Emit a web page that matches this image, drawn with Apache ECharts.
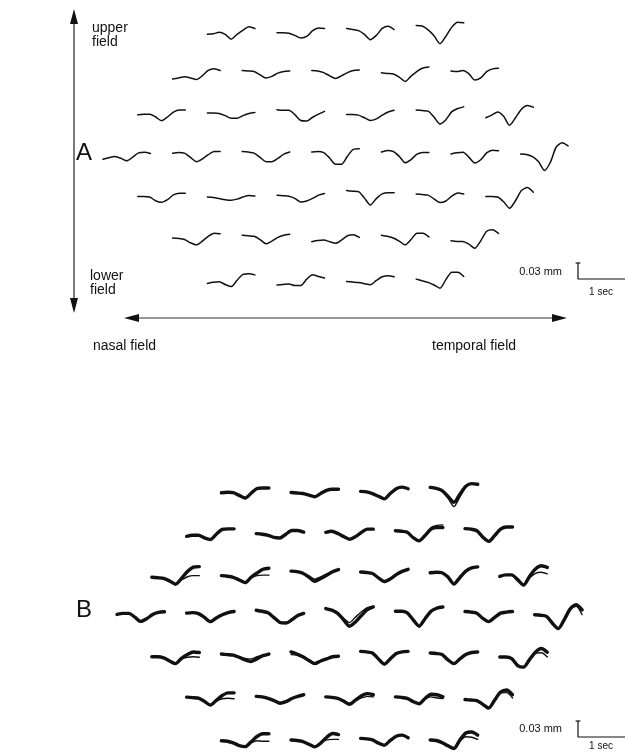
<!DOCTYPE html>
<html>
<head>
<meta charset="utf-8">
<script type="text/javascript" src="https://cdn.jsdelivr.net/npm/echarts@6/dist/echarts.min.js"></script>
<title>Visual field responses</title>
<style>html,body{margin:0;padding:0;background:#fff;}</style>
</head>
<body>
<div id="container" style="width:625px;height:753px;"></div>
<script type="text/javascript">
// sample times inside one trace (sec)
var times = [0, 0.125, 0.25, 0.375, 0.5, 0.625, 0.75, 0.875, 1];

// panel A: one trace per stimulus location, displacement in µm (up = positive)
// rows go from upper field to lower field, columns from nasal to temporal
var aRow1 = [
  [0, 1, 4, 0, -9, 0, 8, 14, 11],
  [0, 0, -1, -5, -10, -7, 4, 9, 8],
  [0, -2, -4, -11, -21, -13, 0, 4, -2],
  [0, -1, -8, -19, -34, -20, -3, 6, 5]
];
var aRow2 = [
  [0, 2, 4, 2, -1, 6, 16, 19, 16],
  [0, -1, -2, -8, -14, -11, -5, -2, -1],
  [0, -1, -4, -10, -15, -10, -4, 0, 1],
  [0, -1, -2, -8, -16, -6, 3, 9, 11],
  [0, -1, 1, -5, -17, -13, -1, 4, 5]
];
var aRow3 = [
  [0, 1, 1, -4, -11, -4, 5, 9, 9],
  [0, 0, -1, -5, -10, -10, -5, -1, 1],
  [0, -1, -1, -9, -20, -21, -14, -8, -3],
  [0, 0, -1, -6, -11, -8, -1, 5, 8],
  [0, -1, -2, -13, -26, -18, -3, 3, 6],
  [0, 5, 11, 3, -14, 0, 16, 23, 20]
];
var aRow4 = [
  [0, 3, 5, 2, -3, 4, 12, 13, 11],
  [0, 1, 0, -8, -16, -11, -3, 3, 3],
  [0, -1, -3, -11, -19, -19, -13, -5, -1],
  [0, 1, -1, -11, -23, -23, -8, 5, 6],
  [0, 3, 1, -8, -20, -14, -4, -1, -1],
  [0, 2, 3, -6, -17, -11, 2, 7, 6],
  [0, -1, -5, -14, -31, -16, 13, 21, 15]
];
var aRow5 = [
  [0, 0, -1, -8, -11, -6, 3, 6, 6],
  [0, -1, -3, -5, -6, -4, 0, 3, 2],
  [0, -1, -2, -6, -13, -11, -6, 0, 3],
  [0, -1, -2, -14, -27, -15, -6, -4, -4],
  [0, -1, -2, -9, -16, -13, -4, 2, 0],
  [0, 0, -1, -10, -22, -8, 11, 17, 8]
];
var aRow6 = [
  [0, -1, -3, -9, -13, -6, 3, 9, 8],
  [0, -1, -2, -8, -16, -11, -4, 0, 2],
  [0, 2, 3, 0, -3, 3, 11, 13, 8],
  [0, -2, -5, -11, -18, -8, 4, 4, -3],
  [0, -1, -1, -6, -14, 0, 18, 21, 14]
];
var aRow7 = [
  [0, 2, 3, -2, -6, 6, 17, 18, 16],
  [0, 1, 2, -1, -1, 11, 19, 16, 13],
  [0, -1, -2, -4, -6, 2, 9, 11, 9],
  [0, -3, -6, -11, -17, -1, 13, 13, 5]
];

// panel B: superimposed repeated runs, main trace per location
var bRow1 = [
  [0, 1, 0, -5, -10, -1, 8, 9, 9],
  [0, -1, -2, -5, -8, -2, 4, 6, 6],
  [0, -1, -4, -9, -14, -4, 5, 8, 5],
  [0, -2, -6, -17, -28, -13, 2, 7, 6]
];
var bRow2 = [
  [0, 2, 2, -3, -6, 4, 13, 14, 14],
  [0, -1, -3, -7, -8, -1, 6, 6, 3],
  [0, 2, -2, -8, -13, -8, 0, 6, 6],
  [0, -1, -3, -13, -19, -9, 3, 6, 6],
  [0, -1, -4, -16, -24, -13, -1, 3, 3]
];
var bRow3 = [
  [0, -1, -2, -7, -13, -2, 11, 19, 20],
  [0, -1, -3, -8, -13, -3, 5, 12, 14],
  [0, -1, -4, -11, -19, -14, -8, -1, 3],
  [0, -1, -3, -11, -18, -13, -5, 1, 5],
  [0, 1, 0, -8, -21, -9, 3, 9, 11],
  [0, 3, 3, -6, -16, 0, 14, 20, 17]
];
var bRow4 = [
  [0, 2, 2, -5, -13, -8, 0, 4, 5],
  [0, 1, -1, -8, -16, -9, -3, 1, 3],
  [0, -2, -5, -14, -23, -24, -18, -10, -6],
  [0, -3, -9, -21, -33, -25, -13, -2, 3],
  [0, 0, -3, -16, -28, -14, 0, 6, 8],
  [0, -1, -3, -13, -19, -11, -3, -1, 0],
  [0, -1, -3, -16, -26, -9, 11, 19, 9]
];
var bRow5 = [
  [0, 0, -2, -8, -13, -3, 4, 9, 8],
  [0, -1, -2, -6, -11, -14, -9, -3, 0],
  [0, -4, -9, -16, -22, -17, -13, -9, -8],
  [0, -1, -3, -14, -24, -14, -4, -1, 0],
  [0, -1, -3, -13, -20, -11, -3, 1, 2],
  [0, 0, -3, -16, -19, -5, 9, 16, 9]
];
var bRow6 = [
  [0, -1, -2, -8, -15, -6, 3, 8, 8],
  [0, -1, -4, -8, -13, -10, -4, 0, 3],
  [0, -1, -3, -8, -14, -6, 2, 6, 4],
  [0, -1, -3, -9, -13, -3, 5, 4, 0],
  [0, -1, -2, -9, -16, -1, 14, 18, 9]
];
var bRow7 = [
  [0, -1, -4, -9, -11, -2, 8, 13, 13],
  [0, -1, -3, -8, -13, -6, 5, 12, 10],
  [0, -1, -3, -9, -13, -4, 4, 6, 1],
  [0, -1, -5, -11, -16, 0, 13, 15, 9]
];

// panel B: runs that split visibly from the main trace ("row,col")
var bSplit = {
  '0,3': [0, -2, -7, -20, -36, -18, 0, 7, 5],
  '1,3': [0, -1, -3, -13, -19, -8, 6, 10, 11],
  '2,0': [0, -1, -2, -7, -13, -5, 1, 3, 3],
  '2,1': [0, -1, -3, -8, -13, -4, 0, 1, 1],
  '2,2': [0, -1, -4, -9, -15, -11, -5, -1, 2],
  '2,5': [0, 3, 3, -6, -16, -3, 6, 8, 5],
  '3,3': [0, -3, -9, -18, -26, -16, -6, 2, 5],
  '3,6': [0, -1, -3, -16, -26, -9, 11, 16, 0],
  '4,0': [0, 0, -2, -8, -13, -4, -1, 0, -1],
  '4,1': [0, -1, -2, -5, -8, -9, -5, -2, 0],
  '4,2': [-5, -6, -9, -15, -20, -16, -12, -9, -8],
  '4,5': [0, 0, -3, -16, -19, -5, 7, 8, 0],
  '5,0': [0, -1, -2, -8, -15, -7, -3, -2, -3],
  '5,2': [0, -1, -3, -8, -12, -7, -2, 1, 0],
  '5,3': [0, -1, -3, -9, -13, -4, 0, -2, -3],
  '5,4': [0, -1, -2, -9, -16, -1, 12, 13, 3],
  '6,0': [0, -1, -4, -9, -11, -4, 0, -1, -1],
  '6,1': [0, -1, -3, -8, -13, -6, 0, 1, 1],
  '6,3': [0, -1, -5, -11, -16, -2, 6, 5, 1]
};

// scale bars: 0.03 mm and 1 sec
var barUm = 30, barSec = 1;

var W = 625, H = 753;
var PX_PER_SEC = 47.5, PX_PER_UM = 16 / 30;
var COL_STEP = 69.6, ROW_STEP = 41.2;

function secAt(px) { return px / PX_PER_SEC; }
function umAt(py) { return (H - py) / PX_PER_UM; }

function trace(vals, x0, y0, w) {
  return {
    type: 'line',
    data: vals.map(function (v, i) { return [x0 + times[i], y0 + v]; }),
    showSymbol: false,
    smooth: 0.25,
    silent: true,
    lineStyle: { color: '#111', width: w, cap: 'round', join: 'round' }
  };
}

var panels = [
  { rows: [aRow1, aRow2, aRow3, aRow4, aRow5, aRow6, aRow7], left: 103, top: 33, width: 1.5, split: null },
  { rows: [bRow1, bRow2, bRow3, bRow4, bRow5, bRow6, bRow7], left: 117, top: 493, width: 3.4, split: bSplit }
];

var series = [];
panels.forEach(function (p) {
  p.rows.forEach(function (row, r) {
    var indent = Math.abs(r - 3) * COL_STEP / 2;
    var cy = p.top + r * ROW_STEP;
    row.forEach(function (vals, c) {
      var x0 = secAt(p.left + indent + c * COL_STEP);
      var mid = (Math.max.apply(null, vals) + Math.min.apply(null, vals)) / 2;
      var y0 = umAt(cy) - mid;
      series.push(trace(vals, x0, y0, p.width));
      var extra = p.split && p.split[r + ',' + c];
      if (extra) series.push(trace(extra, x0, y0, 1.4));
    });
  });
});

// scale bar corners (px)
[[578, 279], [578, 737]].forEach(function (pt) {
  var x = secAt(pt[0]), y = umAt(pt[1]);
  series.push({
    type: 'line', showSymbol: false, silent: true,
    data: [[x, y + barUm], [x, y], [x + barSec, y]],
    lineStyle: { color: '#111', width: 1.2 }
  });
  series.push({
    type: 'line', showSymbol: false, silent: true,
    data: [[x - 0.05, y + barUm], [x + 0.05, y + barUm]],
    lineStyle: { color: '#111', width: 1.2 }
  });
});

var font = '"Liberation Sans", Arial, sans-serif';
function label(text, x, y, size, align, extra) {
  var style = { text: text, x: x, y: y, fill: '#111', font: size + 'px ' + font,
    textAlign: align || 'left', textVerticalAlign: 'middle' };
  if (extra) for (var k in extra) style[k] = extra[k];
  return { type: 'text', silent: true, style: style };
}
function arrowHead(tip, dir) {
  // dir: unit vector pointing toward the tip
  var len = 15, half = 4;
  var bx = tip[0] - dir[0] * len, by = tip[1] - dir[1] * len;
  return {
    type: 'polygon', silent: true,
    shape: { points: [tip, [bx - dir[1] * half, by + dir[0] * half], [bx + dir[1] * half, by - dir[0] * half]] },
    style: { fill: '#111' }
  };
}

var graphics = [
  // vertical (upper / lower field) arrow
  { type: 'line', silent: true, shape: { x1: 74, y1: 14, x2: 74, y2: 308 }, style: { stroke: '#222', lineWidth: 1.2 } },
  arrowHead([74, 9], [0, -1]),
  arrowHead([74, 313], [0, 1]),
  // horizontal (nasal / temporal field) arrow
  { type: 'line', silent: true, shape: { x1: 130, y1: 318, x2: 560, y2: 318 }, style: { stroke: '#333', lineWidth: 1.1 } },
  arrowHead([124, 318], [-1, 0]),
  arrowHead([567, 318], [1, 0]),
  label('upper\nfield', 92, 35, 14, 'left', { lineHeight: 14 }),
  label('lower\nfield', 90, 283, 14, 'left', { lineHeight: 14 }),
  label('nasal field', 93, 346, 14),
  label('temporal field', 432, 346, 14),
  label('A', 76, 153, 24),
  label('B', 76, 610, 24),
  label('0.03 mm', 562, 272, 11, 'right'),
  label('1 sec', 601, 292, 10, 'center'),
  label('0.03 mm', 562, 729, 11, 'right'),
  label('1 sec', 601, 746, 10, 'center')
];

var myChart = echarts.init(document.getElementById('container'));
var option = {
  animation: false,
  backgroundColor: '#fff',
  grid: { left: 0, right: 0, top: 0, bottom: 0 },
  xAxis: { type: 'value', min: 0, max: W / PX_PER_SEC, show: false },
  yAxis: { type: 'value', min: 0, max: H / PX_PER_UM, show: false },
  graphic: graphics,
  series: series
};
myChart.setOption(option);
</script>
</body>
</html>
